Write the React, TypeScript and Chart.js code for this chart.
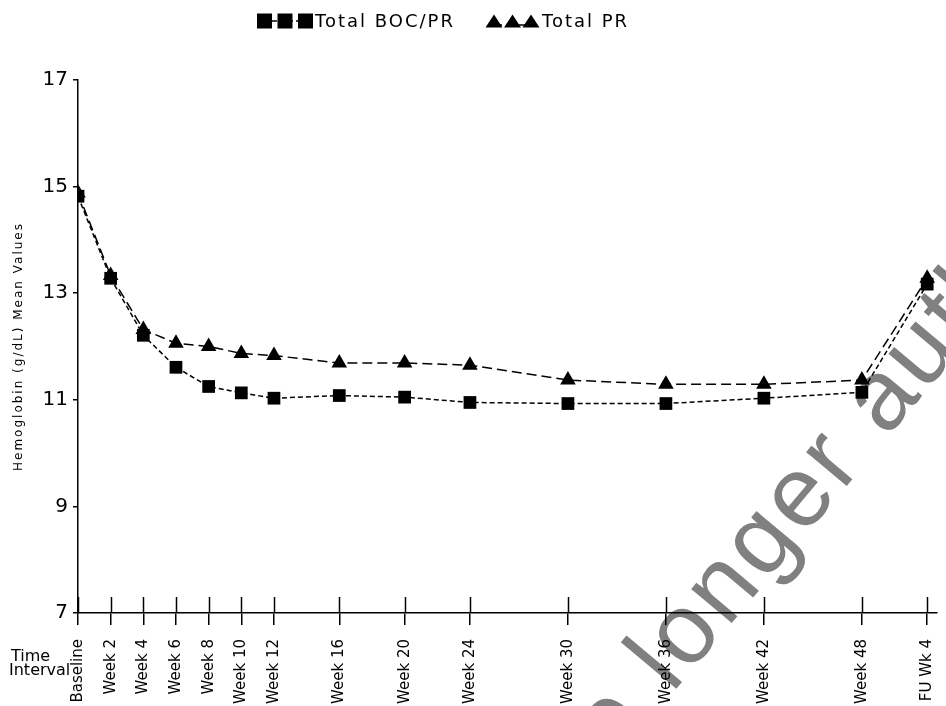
import { useEffect, useRef } from "react";
import { Chart, registerables } from "chart.js";

Chart.register(...registerables);

const weeks = [0, 2, 4, 6, 8, 10, 12, 16, 20, 24, 30, 36, 42, 48, 52];
const tickLabels = [
  "Baseline", "Week 2", "Week 4", "Week 6", "Week 8", "Week 10", "Week 12",
  "Week 16", "Week 20", "Week 24", "Week 30", "Week 36", "Week 42", "Week 48", "FU Wk 4",
];
const bocPr = [14.82, 13.28, 12.21, 11.61, 11.25, 11.13, 11.03, 11.08, 11.05, 10.95, 10.93, 10.93, 11.03, 11.14, 13.17];
const pr = [14.88, 13.33, 12.32, 12.06, 12.0, 11.87, 11.83, 11.69, 11.69, 11.65, 11.37, 11.29, 11.29, 11.37, 13.28];
const yTicks = [7, 9, 11, 13, 15, 17];
const seriesNames = ["Total BOC/PR", "Total PR"];
const yTitle = "Hemoglobin (g/dL) Mean Values";
const xTitle = ["Time", "Interval"];
const watermark = "Medicinal product no longer authorised";
const watermarkPrefix = "Medicinal product no ";

const FONT = '"DejaVu Sans", sans-serif';

function drawSquare(ctx: CanvasRenderingContext2D, x: number, y: number, s: number) {
  ctx.fillRect(x - s / 2, y - s / 2, s, s);
}
function drawTriangle(ctx: CanvasRenderingContext2D, x: number, y: number, w: number, h: number) {
  ctx.beginPath();
  ctx.moveTo(x, y - h / 2);
  ctx.lineTo(x + w / 2, y + h / 2);
  ctx.lineTo(x - w / 2, y + h / 2);
  ctx.closePath();
  ctx.fill();
}

const decor = {
  id: "decor",
  beforeDraw(chart: any) {
    const ctx: CanvasRenderingContext2D = chart.ctx;
    ctx.save();
    ctx.font = '100px "Liberation Sans", Arial, sans-serif';
    (ctx as any).letterSpacing = "4px";
    ctx.fillStyle = "#808080";
    ctx.textBaseline = "alphabetic";
    ctx.textAlign = "left";
    const off = ctx.measureText(watermarkPrefix).width;
    ctx.translate(672, 694);
    ctx.rotate((-50 * Math.PI) / 180);
    ctx.fillText(watermark, -off, 0);
    (ctx as any).letterSpacing = "0px";
    ctx.restore();
  },
  afterDraw(chart: any) {
    const ctx: CanvasRenderingContext2D = chart.ctx;
    const xs = chart.scales.x;
    const area = chart.chartArea;
    ctx.save();
    // upper halves of x tick marks
    ctx.strokeStyle = "#000";
    ctx.lineWidth = 1.5;
    for (const w of weeks) {
      const px = Math.round(xs.getPixelForValue(w)) + 0.5;
      ctx.beginPath();
      ctx.moveTo(px, area.bottom - 16);
      ctx.lineTo(px, area.bottom);
      ctx.stroke();
    }
    // y title
    ctx.fillStyle = "#000";
    (ctx as any).letterSpacing = "2px";
    ctx.font = `12px ${FONT}`;
    ctx.textAlign = "center";
    ctx.textBaseline = "middle";
    ctx.save();
    ctx.translate(19, (area.top + area.bottom) / 2);
    ctx.rotate(-Math.PI / 2);
    ctx.fillText(yTitle, 0, 0);
    ctx.restore();
    // Time Interval
    (ctx as any).letterSpacing = "0px";
    ctx.font = `16px ${FONT}`;
    ctx.textAlign = "left";
    ctx.fillText(xTitle[0], 11, 657);
    ctx.fillText(xTitle[1], 9, 671);
    // legend
    const ly = 21;
    (ctx as any).letterSpacing = "2px";
    ctx.font = `18px ${FONT}`;
    ctx.textBaseline = "middle";
    ctx.setLineDash([5, 3]);
    ctx.lineWidth = 1.5;
    ctx.beginPath();
    ctx.moveTo(264, ly);
    ctx.lineTo(306, ly);
    ctx.stroke();
    ctx.setLineDash([]);
    for (const cx of [264.5, 285, 305.5]) drawSquare(ctx, cx, ly, 15);
    ctx.fillText(seriesNames[0], 315, ly + 1);
    ctx.setLineDash([8, 4]);
    ctx.beginPath();
    ctx.moveTo(494, ly + 4);
    ctx.lineTo(531, ly + 4);
    ctx.stroke();
    ctx.setLineDash([]);
    for (const cx of [494, 512.5, 531]) drawTriangle(ctx, cx, ly, 17, 13);
    ctx.fillText(seriesNames[1], 542, ly + 1);
    (ctx as any).letterSpacing = "0px";
    ctx.restore();
  },
};

export default function App() {
  const ref = useRef<HTMLCanvasElement | null>(null);
  useEffect(() => {
    if (!ref.current) return;
    const chart = new Chart(ref.current, {
      type: "line",
      data: {
        datasets: [
          {
            label: seriesNames[0],
            data: weeks.map((w, i) => ({ x: w, y: bocPr[i] })),
            borderColor: "#000",
            borderWidth: 1.5,
            borderDash: [5, 3],
            pointStyle: "rect",
            pointRadius: 9,
            pointBackgroundColor: "#000",
            pointBorderColor: "#000",
            pointBorderWidth: 0,
            tension: 0,
          },
          {
            label: seriesNames[1],
            data: weeks.map((w, i) => ({ x: w, y: pr[i] })),
            borderColor: "#000",
            borderWidth: 1.5,
            borderDash: [10, 5],
            pointStyle: "triangle",
            pointRadius: 9,
            pointBackgroundColor: "#000",
            pointBorderColor: "#000",
            pointBorderWidth: 0,
            tension: 0,
          },
        ],
      },
      options: {
        animation: false,
        responsive: false,
        layout: { padding: { top: 80, left: 0, right: 0, bottom: 0 } },
        plugins: { legend: { display: false }, tooltip: { enabled: false } },
        scales: {
          x: {
            type: "linear",
            min: 0,
            max: 52.6,
            afterBuildTicks: (s: any) => {
              s.ticks = weeks.map((v) => ({ value: v }));
            },
            ticks: {
              autoSkip: false,
              maxRotation: 90,
              minRotation: 90,
              padding: 14,
              color: "#000",
              font: { family: FONT, size: 15 },
              callback: (_v: any, i: number) => tickLabels[i] ?? "",
            },
            grid: { drawOnChartArea: false, drawTicks: true, tickLength: 12, color: "#000", lineWidth: 1.5 },
            border: { color: "#000", width: 1.5 },
            afterFit: (s: any) => {
              s.height = 93;
              s.paddingLeft = 0;
              s.paddingRight = 0;
            },
          },
          y: {
            min: 7,
            max: 17,
            afterBuildTicks: (s: any) => {
              s.ticks = yTicks.map((v) => ({ value: v }));
            },
            ticks: { padding: 5, color: "#000", font: { family: FONT, size: 20 } },
            grid: { drawOnChartArea: false, drawTicks: true, tickLength: 5, color: "#000", lineWidth: 1.5 },
            border: { color: "#000", width: 1.5 },
            afterFit: (s: any) => {
              s.width = 78;
            },
          },
        },
      },
      plugins: [decor],
    } as any);
    return () => chart.destroy();
  }, []);
  return (
    <div style={{ position: "absolute", left: 0, top: 0, width: 946, height: 706, background: "#fff" }}>
      <canvas ref={ref} width={946} height={706} />
    </div>
  );
}
